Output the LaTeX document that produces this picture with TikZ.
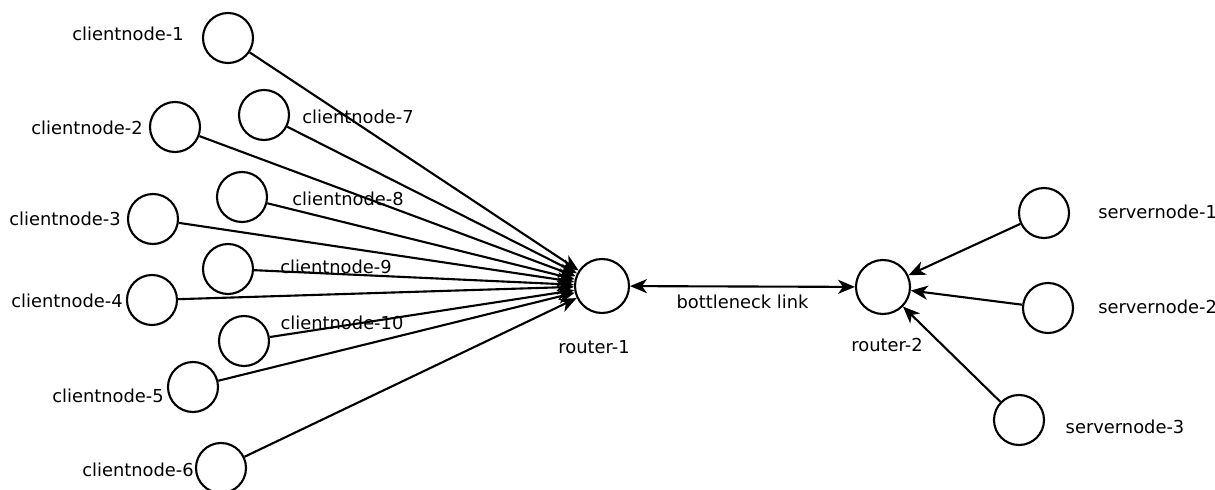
\documentclass[tikz,border=0pt]{standalone}
\usepackage{fontspec}
\setmainfont{DejaVu Sans}
\usetikzlibrary{positioning,arrows.meta}

\begin{document}
\begin{tikzpicture}[
		x=0.025cm, y=-0.025cm,
		>={Stealth[length=12pt, width=10pt, inset=3.5pt]},
		host/.style={circle, draw, minimum size=1.25cm, line width=1.5pt, inner sep=0pt},
		router/.style={circle, draw, minimum size=1.35cm, line width=1.5pt, inner sep=0pt},
		tag/.style={font=\fontsize{12.7}{14}\selectfont, inner sep=0pt},
		link/.style={->, line width=1.5pt}
	]
	\useasboundingbox (0,0) rectangle (1215,490);

	% Nodes
	\node[host] (c1) at (228,38) {};
	\node[host] (c2) at (175,127) {};
	\node[host] (c3) at (153,219) {};
	\node[host] (c4) at (152,300) {};
	\node[host] (c5) at (193,387) {};
	\node[host] (c6) at (221,468) {};
	\node[host] (c7) at (264,115) {};
	\node[host] (c8) at (242,197) {};
	\node[host] (c9) at (228,269) {};
	\node[host] (c10) at (244,341) {};
	\node[router] (r1) at (602,286) {};
	\node[router] (r2) at (883,287) {};
	\node[host] (s1) at (1044,213) {};
	\node[host] (s2) at (1048,308) {};
	\node[host] (s3) at (1019,420) {};

	% Labels
	\node[tag] (c1t) at (128,34) {clientnode-1};
	\node[tag] (c2t) at (87,128) {clientnode-2};
	\node[tag] (c3t) at (65,219) {clientnode-3};
	\node[tag] (c4t) at (67,301) {clientnode-4};
	\node[tag] (c5t) at (108,396) {clientnode-5};
	\node[tag] (c6t) at (138,470) {clientnode-6};
	\node[tag] (c7t) at (358,117) {clientnode-7};
	\node[tag] (c8t) at (348,199) {clientnode-8};
	\node[tag] (c9t) at (336,267) {clientnode-9};
	\node[tag] (c10t) at (342,323) {clientnode-10};
	\node[tag] (r1t) at (594,347) {router-1};
	\node[tag] (r2t) at (887,345) {router-2};
	\node[tag, anchor=west] (s1t) at (1098,212) {servernode-1};
	\node[tag, anchor=west] (s2t) at (1098,307) {servernode-2};
	\node[tag] (s3t) at (1125,427) {servernode-3};

	% Arrows
	\foreach \i in {1,...,10}
		\draw[link] (c\i) -- (r1);
	\draw[<->, line width=1.5pt] (r1) -- node[tag, below=5pt] (bl) {bottleneck link} (r2);
	\foreach \i in {1,2,3}
		\draw[link] (s\i) -- (r2);
\end{tikzpicture}
\end{document}
